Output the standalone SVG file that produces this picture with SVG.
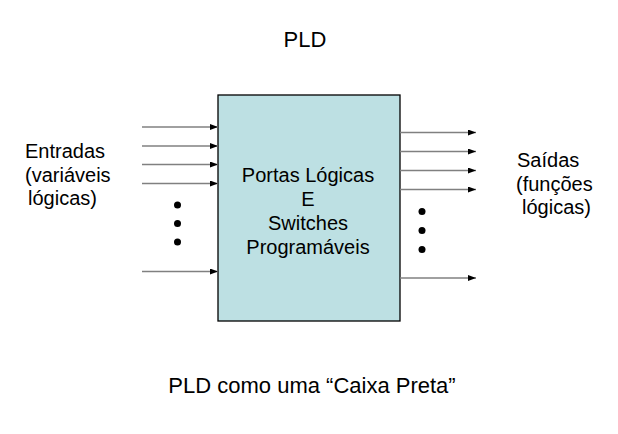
<svg xmlns="http://www.w3.org/2000/svg" width="618" height="434" viewBox="0 0 618 434">
<defs>
<marker id="ah" markerWidth="8" markerHeight="6" refX="8" refY="3" orient="auto" markerUnits="userSpaceOnUse">
<path d="M0,0 L8,3 L0,6 z" fill="#000"/>
</marker>
<style>
text{font-family:"Liberation Sans",Arial,sans-serif;font-size:20px;fill:#000}
.t{font-size:22px}
.c{text-anchor:middle}
.w line{stroke:#808080;stroke-width:1.3;marker-end:url(#ah)}
.d{fill:#000}
</style>
</defs>
<rect width="618" height="434" fill="#fff"/>
<text class="c t" x="305" y="47">PLD</text>
<g id="box">
<rect x="218" y="95" width="182" height="226" fill="#bde0e3" stroke="#000" stroke-width="1.3"/>
<text class="c" x="308" y="182">Portas Lógicas</text>
<text class="c" x="308" y="206">E</text>
<text class="c" x="308" y="230">Switches</text>
<text class="c" x="308" y="254">Programáveis</text>
</g>
<g id="inputs-label">
<text x="25" y="158">Entradas</text>
<text x="25" y="182">(variáveis</text>
<text x="28" y="205">lógicas)</text>
</g>
<g id="outputs-label">
<text x="517" y="167">Saídas</text>
<text x="516" y="191">(funções</text>
<text x="522" y="214">lógicas)</text>
</g>
<g id="connectors" class="w">
<line x1="142" y1="127" x2="218" y2="127"/>
<line x1="142" y1="146" x2="218" y2="146"/>
<line x1="142" y1="164.5" x2="218" y2="164.5"/>
<line x1="142" y1="183.5" x2="218" y2="183.5"/>
<line x1="142" y1="271.5" x2="218" y2="271.5"/>
<line x1="400" y1="132.5" x2="476" y2="132.5"/>
<line x1="400" y1="151.5" x2="476" y2="151.5"/>
<line x1="400" y1="170.5" x2="476" y2="170.5"/>
<line x1="400" y1="189.5" x2="476" y2="189.5"/>
<line x1="400" y1="278" x2="476" y2="278"/>
</g>
<g id="dots">
<circle class="d" cx="177.5" cy="205" r="3.5"/>
<circle class="d" cx="177.5" cy="223.5" r="3.5"/>
<circle class="d" cx="177.5" cy="242" r="3.5"/>
<circle class="d" cx="422" cy="211.5" r="3.5"/>
<circle class="d" cx="422" cy="230.5" r="3.5"/>
<circle class="d" cx="422" cy="249.5" r="3.5"/>
</g>
<text class="c t" x="312" y="393">PLD como uma “Caixa Preta”</text>
</svg>
